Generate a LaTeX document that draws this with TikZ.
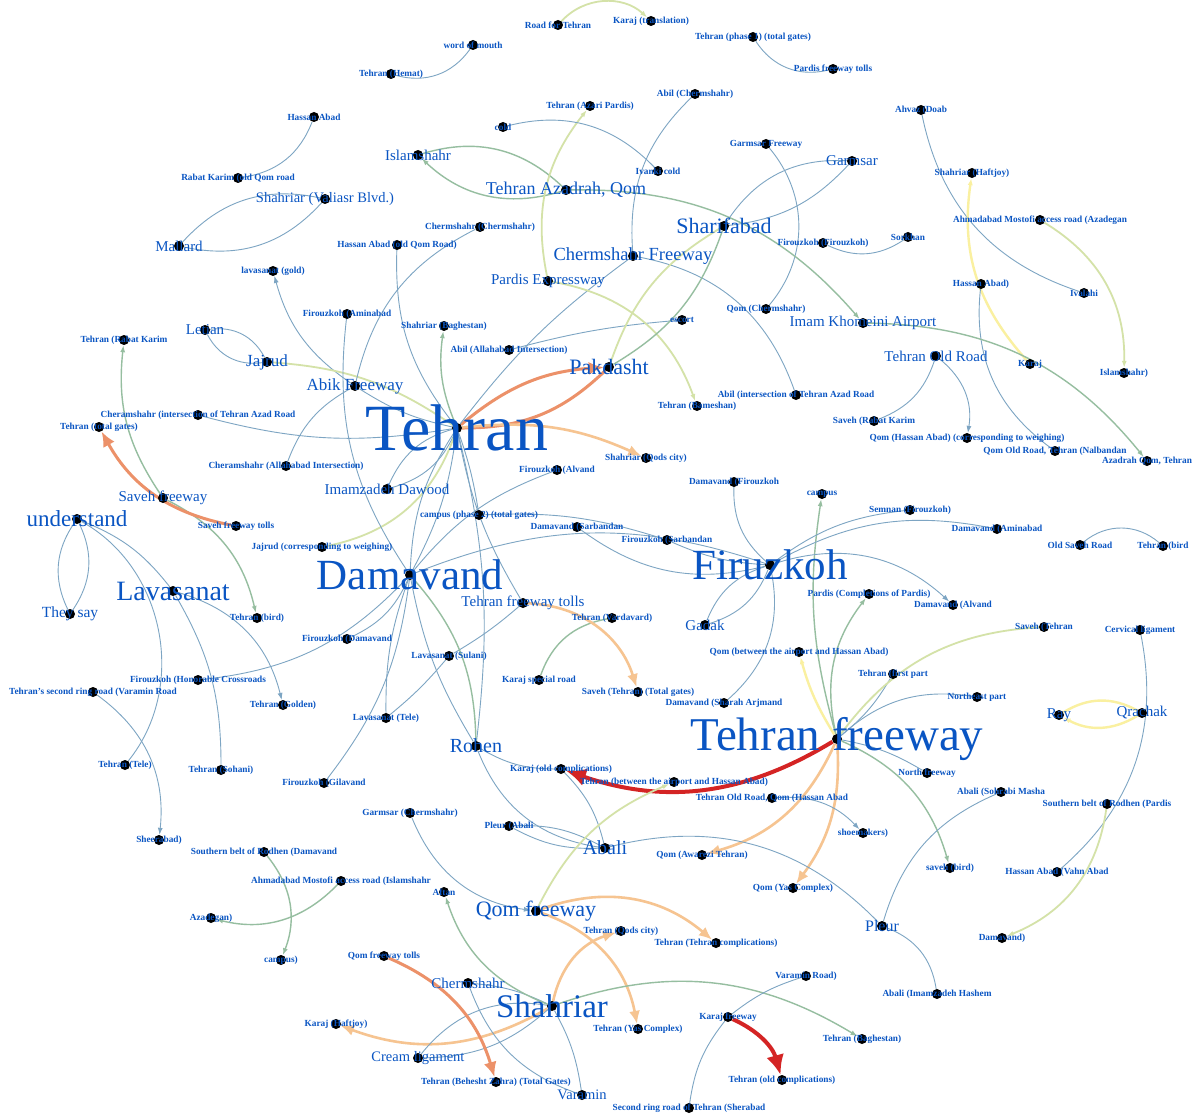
\documentclass[tikz,border=0pt]{standalone}
\usepackage{fontspec}
\setmainfont{Liberation Serif}
\usetikzlibrary{arrows.meta}
\pgfdeclarelayer{back}
\pgfdeclarelayer{bg}
\pgfsetlayers{back,bg,main}
\newcommand{\fsz}[1]{\fontsize{#1}{#1}\selectfont}
\definecolor{lblue}{RGB}{10,85,195}
\definecolor{ebc}{RGB}{125,165,195}
\definecolor{egc}{RGB}{150,190,160}
\definecolor{eygc}{RGB}{212,226,168}
\definecolor{eyc}{RGB}{250,240,160}
\definecolor{eoc}{RGB}{236,145,105}
\definecolor{epc}{RGB}{246,196,145}
\definecolor{erc}{RGB}{212,36,36}
\tikzset{
  dot/.style={circle,fill=black,minimum size=10pt,inner sep=0pt},
  lbl/.style={text=lblue,inner sep=0pt},
  eb/.style={draw=ebc,line width=0.9pt},
  eg/.style={draw=egc,line width=1.4pt},
  eyg/.style={draw=eygc,line width=1.8pt},
  ey/.style={draw=eyc,line width=2.4pt},
  eo/.style={draw=eoc,line width=3pt},
  ep/.style={draw=epc,line width=2.6pt},
  er/.style={draw=erc,line width=4pt},
  arr/.style={-{Latex[length=7pt,width=5pt]}},
  arrP/.style={-{Latex[length=13pt,width=11pt]}},
  arrO/.style={-{Latex[length=15pt,width=13pt]}},
  arrR/.style={-{Latex[length=20pt,width=18pt]}}
}
\newcommand{\nd}[5]{\node[dot] (#1) at (#2,-#3) {}; \node[lbl,font=\fsz{#4}] (#1-t) at (#2,-#3) {#5};}
\newcommand{\ns}[4]{\node[dot] (#1) at (#2,-#3) {}; \node[lbl,font=\fsz{9.3}\bfseries] (#1-t) at (#2,-#3) {#4};}
\begin{document}
\begin{tikzpicture}[x=1pt,y=1pt]
\begin{pgfonlayer}{back}
\fill[white] (0,0) rectangle (1200,-1118);
\end{pgfonlayer}
\useasboundingbox (0,0) rectangle (1200,-1118);
\ns{roadT}{558}{25}{Road for Tehran}
\ns{karajTr}{651}{21}{Karaj (translation)}
\ns{tehPh1}{753}{37}{Tehran (phase 1) (total gates)}
\ns{pardTolls}{833}{69}{Pardis freeway tolls}
\ns{wom}{473}{45}{word of mouth}
\ns{tehHemat}{391}{74}{Tehran (Hemat)}
\ns{hassanA}{314}{117}{Hassan Abad}
\ns{rabatK}{238}{178}{Rabat Karim (old Qom road}
\nd{shValiasr}{325}{199}{14.5}{Shahriar (Valiasr Blvd.)}
\nd{mallard}{179}{246}{15}{Mallard}
\ns{lavGold}{273}{271}{lavasanat (gold)}
\nd{letian}{205}{330}{15}{Letian}
\ns{tehRabat}{124}{340}{Tehran (Rabat Karim}
\nd{jajrud}{267}{362}{17}{Jajrud}
\nd{islam}{418}{155}{15}{Islamshahr}
\nd{tehAzadrah}{566}{190}{18}{Tehran Azadrah, Qom}
\ns{cold}{503}{127}{cold}
\ns{tehAzari}{590}{106}{Tehran (Azari Pardis)}
\ns{chermCh}{480}{227}{Chermshahr (Chermshahr)}
\ns{hassanOQ}{397}{245}{Hassan Abad (old Qom Road)}
\nd{pardExp}{548}{281}{15}{Pardis Expressway}
\ns{fzAmin}{347}{314}{Firouzkoh (Aminabad}
\ns{shBagh}{444}{326}{Shahriar (Baghestan)}
\ns{abilAllah}{509}{350}{Abil (Allahabad Intersection)}
\nd{pakdasht}{609}{367}{22}{Pakdasht}
\ns{abilCh}{695}{94}{Abil (Chermshahr)}
\ns{ivanki}{658}{171}{Ivanki cold}
\ns{garmFwy}{766}{144}{Garmsar Freeway}
\nd{garmsar}{852}{161}{15}{Garmsar}
\nd{sharif}{724}{226}{22}{Sharifabad}
\nd{chermFwy}{633}{256}{18.5}{Chermshahr Freeway}
\ns{fzFz}{823}{243}{Firouzkoh (Firouzkoh)}
\ns{sorkhan}{908}{237}{Sorkhan}
\ns{escort}{682}{320}{escort}
\ns{qomCh}{766}{309}{Qom (Chermshahr)}
\nd{airport}{863}{323}{15}{Imam Khomeini Airport}
\ns{ahvaz}{921}{110}{Ahvaz (Doab}
\ns{shHaft}{972}{173}{Shahriar (Haftjoy)}
\ns{ahmadAz}{1040}{220}{Ahmadabad Mostofi access road (Azadegan}
\ns{hassanP}{981}{284}{Hassan Abad)}
\ns{ivalahi}{1084}{293}{Ivalahi}
\ns{karaj}{1030}{364}{Karaj}
\ns{islamP}{1124}{373}{Islamshahr)}
\nd{tehOld}{936}{356}{15}{Tehran Old Road}
\ns{abilInt}{796}{395}{Abil (intersection of Tehran Azad Road}
\ns{tehBam}{697}{406}{Tehran (Bameshan)}
\ns{savRabat}{874}{421}{Saveh (Rabat Karim}
\ns{qomHW}{967}{438}{Qom (Hassan Abad) (corresponding to weighing)}
\ns{qomOldNal}{1055}{451}{Qom Old Road, Tehran (Nalbandan}
\ns{azadQom}{1147}{461}{Azadrah Qom, Tehran}
\ns{shQods}{646}{458}{Shahriar (Qods city)}
\ns{damFz}{734}{482}{Damavand (Firouzkoh}
\ns{campus}{822}{494}{campus}
\ns{semnan}{910}{510}{Semnan (Firouzkoh)}
\ns{damAmin}{997}{529}{Damavand (Aminabad}
\ns{oldSaveh}{1080}{545}{Old Saveh Road}
\ns{tehBird2}{1163}{546}{Tehran (bird}
\ns{fzSarb}{667}{540}{Firouzkoh (Sarbandan}
\ns{damSarb}{577}{527}{Damavand (Sarbandan}
\nd{firuzkoh}{770}{565}{43}{Firuzkoh}
\ns{pardCompl}{869}{594}{Pardis (Completions of Pardis)}
\ns{damAlvand}{953}{605}{Damavand (Alvand}
\nd{gadak}{705}{625}{15}{Gadak}
\ns{qomBetw}{799}{652}{Qom (between the airport and Hassan Abad)}
\ns{tehFirst}{893}{674}{Tehran (first part}
\ns{damSharah}{724}{703}{Damavand (Sharah Arjmand}
\ns{savTehTG}{638}{692}{Saveh (Tehran) (Total gates)}
\ns{savTeh}{1044}{627}{Saveh (Tehran}
\ns{cervical}{1140}{630}{Cervical ligament}
\ns{northeast}{977}{697}{Northeast part}
\nd{ray}{1059}{715}{15}{Ray}
\nd{qrachak}{1142}{713}{15}{Qrachak}
\nd{tFwy}{837}{739}{47}{Tehran freeway}
\ns{tehVard}{612}{618}{Tehran (Vardavard)}
\nd{tFwyTolls}{523}{603}{15}{Tehran freeway tolls}
\ns{karajSp}{539}{680}{Karaj special road}
\ns{lavSul}{449}{656}{Lavasanat (Sulani)}
\ns{lavTele}{386}{718}{Lavasanat (Tele)}
\ns{fzDam}{347}{639}{Firouzkoh (Damavand}
\nd{damavand}{410}{575}{43}{Damavand}
\ns{campP2}{479}{515}{campus (phase 2) (total gates)}
\ns{fzAlvand}{557}{470}{Firouzkoh (Alvand}
\nd{imamz}{387}{489}{15}{Imamzadeh Dawood}
\ns{jajCorr}{322}{547}{Jajrud (corresponding to weighing)}
\nd{abik}{355}{386}{17}{Abik Freeway}
\nd{tehran}{457}{428}{66}{Tehran}
\ns{cheramInt}{198}{415}{Cheramshahr (intersection of Tehran Azad Road}
\ns{tehTG}{99}{427}{Tehran (total gates)}
\ns{cheramAl}{286}{466}{Cheramshahr (Allahabad Intersection)}
\nd{savFwy}{163}{498}{15}{Saveh freeway}
\ns{savTolls}{236}{526}{Saveh freeway tolls}
\nd{understand}{77}{519}{23}{understand}
\nd{theySay}{70}{614}{15.5}{They say}
\nd{lavasanat}{173}{591}{28}{Lavasanat}
\ns{tehBird}{257}{618}{Tehran (bird)}
\ns{fzHon}{198}{680}{Firouzkoh (Honorable Crossroads}
\ns{secRing}{93}{692}{Tehran's second ring road (Varamin Road}
\ns{tehGolden}{283}{705}{Tehran (Golden)}
\ns{tehTele}{125}{765}{Tehran (Tele)}
\ns{tehSohani}{221}{770}{Tehran (Sohani)}
\ns{fzGil}{324}{783}{Firouzkoh (Gilavand}
\ns{sheerabad}{159}{840}{Sheerabad)}
\ns{southDam}{264}{852}{Southern belt of Rodhen (Damavand}
\ns{ahmadIs}{341}{881}{Ahmadabad Mostofi access road (Islamshahr}
\ns{azadegan}{211}{918}{Azadegan)}
\ns{campusP}{281}{960}{campus)}
\ns{garmCh}{410}{813}{Garmsar (Chermshahr)}
\nd{rohen}{476}{746}{20}{Rohen}
\ns{karajOld}{561}{769}{Karaj (old complications)}
\ns{tehBetw}{674}{782}{Tehran (between the airport and Hassan Abad)}
\ns{tehOldQom}{772}{798}{Tehran Old Road, Qom (Hassan Abad}
\ns{pleurAb}{509}{826}{Pleur (Abali}
\nd{abali}{605}{848}{20}{Abali}
\ns{qomAw}{702}{855}{Qom (Awarezi Tehran)}
\ns{shoe}{863}{833}{shoemakers)}
\ns{qomYas}{793}{888}{Qom (Yas Complex)}
\ns{saveBird}{950}{868}{saveh (bird)}
\ns{northFwy}{927}{773}{North freeway}
\ns{abaliSoh}{1001}{792}{Abali (Sohrabi Masha}
\ns{southPard}{1107}{804}{Southern belt of Rodhen (Pardis}
\ns{hassanVahn}{1057}{872}{Hassan Abad (Vahn Abad}
\ns{damP}{1002}{938}{Damavand)}
\nd{pleur}{882}{926}{16}{Pleur}
\ns{abaliImam}{937}{994}{Abali (Imamzadeh Hashem}
\nd{qomFwy}{536}{911}{22}{Qom freeway}
\ns{aftan}{444}{892}{Aftan}
\ns{tehQods}{621}{931}{Tehran (Qods city)}
\ns{tehTC}{716}{943}{Tehran (Tehran complications)}
\ns{qomTolls}{384}{956}{Qom freeway tolls}
\nd{chermshahr}{468}{983}{15}{Chermshahr}
\nd{shahriar}{552}{1006}{33}{Shahriar}
\ns{karajHaft}{336}{1024}{Karaj (Haftjoy)}
\nd{creamLig}{418}{1058}{14.5}{Cream ligament}
\ns{tehBeh}{496}{1082}{Tehran (Behesht Zahra) (Total Gates)}
\nd{varamin}{582}{1095}{14.5}{Varamin}
\ns{tehYas}{638}{1029}{Tehran (Yas Complex)}
\ns{varRoad}{806}{976}{Varamin Road)}
\ns{karajFwy}{728}{1017}{Karaj freeway}
\ns{tehBagh}{862}{1039}{Tehran (Baghestan)}
\ns{tehOldC}{782}{1080}{Tehran (old complications)}
\ns{secRingS}{689}{1108}{Second ring road of Tehran (Sherabad}
\begin{pgfonlayer}{bg}
\draw[eyg,arr] (roadT) to[bend left=45] (karajTr);
\draw[eb] (tehPh1) to[bend right=35] (pardTolls);
\draw[eb] (wom) to[bend left=35] (tehHemat);
\draw[eb] (hassanA) to[bend left=30] (rabatK);
\draw[eb] (mallard) to[bend left=30] (shValiasr);
\draw[eb] (mallard) to[bend right=30] (shValiasr);
\draw[eb,arr] (abik) to[bend left=20] (lavGold);
\draw[eb] (letian) to[bend left=35] (jajrud);
\draw[eb] (letian) to[bend right=35] (jajrud);
\draw[eyg] (jajrud) to[bend left=15] (tehran);
\draw[eg,arr] (savFwy) to[bend left=20] (tehRabat);
\draw[eg,arr] (savFwy) to[bend left=25] (tehBird);
\draw[eo,arrO] (savTolls) to[bend left=25] (tehTG);
\draw[eb] (cheramInt) to[bend right=12] (tehran);
\draw[eb] (cheramAl) to[bend left=20] (abik);
\draw[eb] (understand) to[bend left=30] (theySay);
\draw[eb] (understand) to[bend right=30] (theySay);
\draw[eb] (understand) to[bend left=15] (lavasanat);
\draw[eb] (understand) to[bend left=50] (tehTele);
\draw[eb,arr] (secRing) to[bend left=30] (sheerabad);
\draw[eb,arr] (lavasanat) to[bend left=30] (tehGolden);
\draw[eb] (lavasanat) to[bend left=15] (tehSohani);
\draw[eb] (fzHon) to[bend right=20] (damavand);
\draw[eb] (abik) to[bend right=10] (tehran);
\draw[eb] (tehran) to[bend left=25] (imamz);
\draw[eb] (tehran) to[bend right=25] (imamz);
\draw[eyg] (tehran) to[bend left=30] (jajCorr);
\draw[eg,arr] (tehran) to[bend left=15] (shBagh);
\draw[eo,arrO] (tehran) to[bend left=18] (pakdasht);
\draw[eo] (pakdasht) to[bend left=22] (tehran);
\draw[ep,arrP] (tehran) to[bend left=15] (shQods);
\draw[eb] (abilAllah) to[bend left=5] (escort);
\draw[eb] (tehran) to[bend left=8] (chermFwy);
\draw[eb] (tehran) to[bend right=10] (tFwyTolls);
\draw[eb] (tehran) to[bend left=5] (campP2);
\draw[eb] (tehran) to[bend left=10] (rohen);
\draw[eb] (tehran) to[bend left=10] (damavand);
\draw[eb] (tehran) to[bend right=15] (damavand);
\draw[eb] (damavand) to[bend left=15] (fzAlvand);
\draw[eb] (damavand) to[bend left=20] (firuzkoh);
\draw[eb] (campP2) to[bend left=10] (fzSarb);
\draw[eb] (fzSarb) to[bend right=10] (firuzkoh);
\draw[eb] (damSarb) to[bend right=25] (firuzkoh);
\draw[eb] (damFz) to[bend right=25] (firuzkoh);
\draw[eg,arr] (tFwy) to[bend left=12] (campus);
\draw[ey,arr] (tFwy) to[bend left=8] (qomBetw);
\draw[eg,arr] (tFwy) to[bend left=25] (pardCompl);
\draw[eb] (firuzkoh) to[bend left=15] (semnan);
\draw[eb] (firuzkoh) to[bend left=20] (damAmin);
\draw[eb,arr] (firuzkoh) to[bend left=30] (damAlvand);
\draw[eb] (firuzkoh) to[bend left=25] (gadak);
\draw[eb] (firuzkoh) to[bend right=25] (gadak);
\draw[eb] (firuzkoh) to[bend left=30] (damSharah);
\draw[er,arrR] (tFwy) to[bend left=25] (karajOld);
\draw[ep,arrP] (tFwy) to[bend left=25] (qomAw);
\draw[ep,arrP] (tFwy) to[bend left=20] (qomYas);
\draw[eb] (tFwy) to[bend right=10] (tehFirst);
\draw[eyg] (savTeh) to[bend right=25] (tFwy);
\draw[eb] (tFwy) to[bend left=25] (northeast);
\draw[eb] (tFwy) to[bend left=10] (northFwy);
\draw[eg,arr] (tFwy) to[bend left=25] (saveBird);
\draw[eb,arr] (tehOldQom) to[bend left=25] (shoe);
\draw[eb] (rohen) to[bend right=15] (karajOld);
\draw[eb] (rohen) to[bend right=30] (abali);
\draw[eb] (karajOld) to[bend left=15] (abali);
\draw[eb] (pleurAb) to[bend left=15] (abali);
\draw[eb] (pleurAb) to[bend right=15] (abali);
\draw[eb] (abali) to[bend left=30] (pleur);
\draw[eb] (abaliSoh) to[bend right=25] (pleur);
\draw[eb] (pleur) to[bend left=30] (abaliImam);
\draw[eb] (cervical) to[bend left=30] (hassanVahn);
\draw[ey,arr] (qrachak) to[bend left=30] (ray);
\draw[ey] (ray) to[bend left=30] (qrachak);
\draw[eyg,arr] (southPard) to[bend left=30] (damP);
\draw[eb,arr] (garmCh) to[bend right=30] (qomFwy);
\draw[eyg,arr] (qomFwy) to[bend left=20] (tehBetw);
\draw[ep,arrP] (qomFwy) to[bend left=30] (tehTC);
\draw[ep,arrP] (qomFwy) to[bend left=30] (tehYas);
\draw[ep,arrP] (shahriar) to[bend left=30] (tehQods);
\draw[ep,arrP] (shahriar) to[bend left=25] (karajHaft);
\draw[eb] (creamLig) to[bend left=30] (shahriar);
\draw[eb] (creamLig) to[bend right=20] (shahriar);
\draw[eb] (chermshahr) to[bend left=10] (shahriar);
\draw[eg,arr] (shahriar) to[bend left=25] (aftan);
\draw[eg,arr] (shahriar) to[bend left=25] (tehBagh);
\draw[eb] (chermshahr) to[bend right=25] (varamin);
\draw[eb] (shahriar) to[bend left=10] (varamin);
\draw[eo,arrO] (qomTolls) to[bend left=25] (tehBeh);
\draw[er,arrR] (karajFwy) to[bend left=25] (tehOldC);
\draw[eb] (varRoad) to[bend right=10] (karajFwy);
\draw[eb] (karajFwy) to[bend right=15] (secRingS);
\draw[eg,arr] (southDam) to[bend left=30] (campusP);
\draw[eg,arr] (ahmadIs) to[bend left=30] (azadegan);
\draw[eb] (fzGil) to[bend right=15] (damavand);
\draw[eb] (tFwyTolls) to[bend left=5] (lavSul);
\draw[eb] (lavSul) to[bend left=5] (lavTele);
\draw[eb] (damavand) to[bend right=10] (lavTele);
\draw[eb] (damavand) to[bend left=20] (fzDam);
\draw[eg] (damavand) to[bend left=20] (rohen);
\draw[eb] (damavand) to[bend right=10] (rohen);
\draw[eg] (karajSp) to[bend left=30] (tehVard);
\draw[ep,arrP] (tFwyTolls) to[bend left=35] (savTehTG);
\draw[eb] (ahvaz) to[bend right=30] (ivalahi);
\draw[ey,arr] (karaj) to[bend left=25] (shHaft);
\draw[eyg,arr] (ahmadAz) to[bend left=30] (islamP);
\draw[eb] (hassanP) to[bend right=30] (qomOldNal);
\draw[eg,arr] (airport) to[bend left=25] (azadQom);
\draw[eb] (tehOld) to[bend left=25] (savRabat);
\draw[eb,arr] (tehOld) to[bend left=30] (qomHW);
\draw[eb] (garmFwy) to[bend left=40] (qomCh);
\draw[eb] (sharif) to[bend left=30] (garmsar);
\draw[eb] (sharif) to[bend right=20] (garmsar);
\draw[eb] (fzFz) to[bend right=30] (sorkhan);
\draw[eg,arr] (tehAzadrah) to[bend left=25] (airport);
\draw[eg] (islam) to[bend left=30] (tehAzadrah);
\draw[eg,arr] (tehAzadrah) to[bend left=30] (islam);
\draw[eyg,arr] (pardExp) to[bend left=25] (tehAzari);
\draw[eb] (cold) to[bend left=30] (ivanki);
\draw[eb] (abilCh) to[bend right=25] (chermFwy);
\draw[eb] (chermFwy) to[bend left=30] (abilInt);
\draw[eyg,arr] (pardExp) to[bend left=30] (tehBam);
\draw[eg] (sharif) to[bend left=20] (pakdasht);
\draw[eyg] (sharif) to[bend right=20] (pakdasht);
\draw[eb] (fzAmin) to[bend right=20] (damavand);
\draw[eb] (hassanOQ) to[bend right=20] (tehran);
\draw[eb] (chermCh) to[bend right=25] (abik);
\draw[eb] (oldSaveh) to[bend left=40] (tehBird2);
\end{pgfonlayer}
\end{tikzpicture}
\end{document}
